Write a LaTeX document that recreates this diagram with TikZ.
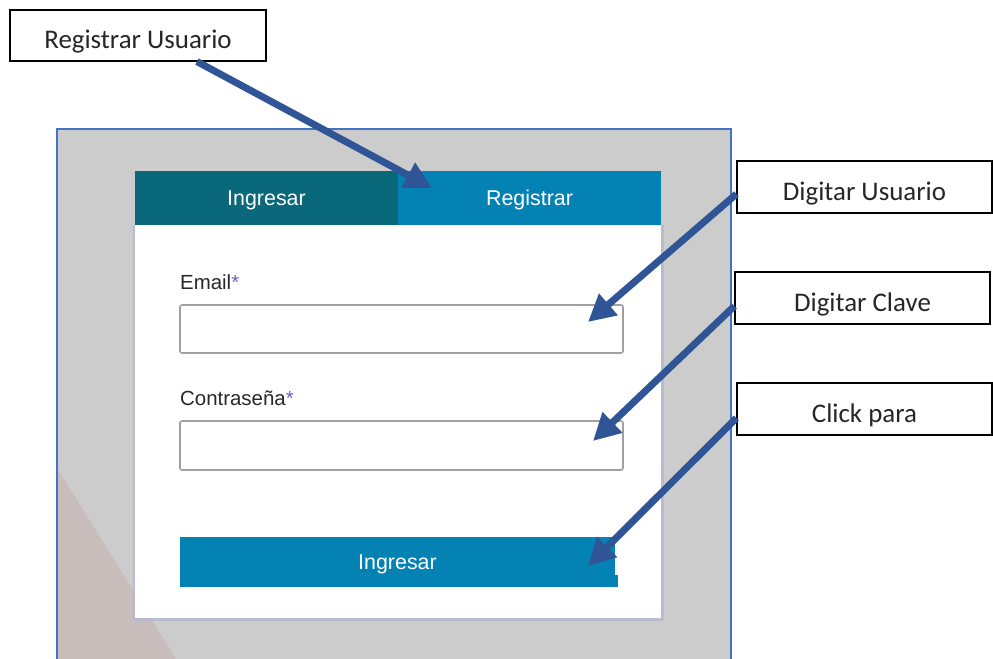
\documentclass[tikz,border=0pt]{standalone}
\usepackage{fontspec}
\setmainfont{Carlito}
\newfontfamily\uifont{Liberation Sans}
\usetikzlibrary{arrows.meta}

\definecolor{pointer}{RGB}{47,85,151}
\definecolor{screengray}{RGB}{204,204,204}
\definecolor{screenpink}{RGB}{200,189,187}
\definecolor{frameblue}{RGB}{68,114,196}
\definecolor{tabdark}{RGB}{9,104,122}
\definecolor{tabblue}{RGB}{5,130,180}
\definecolor{fieldgray}{RGB}{160,160,160}
\definecolor{labelgray}{RGB}{40,40,40}
\definecolor{starcol}{RGB}{110,95,200}
\definecolor{cardshade}{RGB}{175,184,208}

\tikzset{
  callout/.style={draw=black, line width=1.2bp, fill=white, inner sep=0pt,
    minimum width=255bp, minimum height=52bp, text height=26bp, text depth=0bp,
    font=\fontsize{27}{32}\selectfont, text=black!85},
  pointerarrow/.style={draw=pointer, line width=7bp,
    -{Triangle[length=27bp,width=27bp]}},
  tabbox/.style={inner sep=0pt, minimum width=263bp, minimum height=54bp,
    text height=15bp, text depth=0bp,
    text=white, font=\uifont\fontsize{21.5}{25}\selectfont},
  fieldbox/.style={draw=fieldgray, line width=1.6bp, rounded corners=2bp,
    fill=white, inner sep=0pt, minimum width=443bp},
  fieldlabel/.style={anchor=base west, inner sep=0pt, text=labelgray,
    font=\uifont\fontsize{20.5}{25}\selectfont}
}

\begin{document}
\begin{tikzpicture}[x=1bp,y=-1bp]
\useasboundingbox (0,0) rectangle (993,659);
\fill[white] (0,0) rectangle (993,659);

% screen backdrop with its blue frame
\fill[screengray] (57,129) rectangle (731,659);
\fill[screenpink] (57,468) -- (176,659) -- (57,659) -- cycle;
\draw[frameblue, line width=1.6bp] (57,659) -- (57,129) -- (731,129) -- (731,659);

% login card
\fill[cardshade, opacity=0.7] (132.5,225) rectangle (664,620.5);
\node[fill=white, inner sep=0pt, minimum width=526bp, minimum height=447bp]
  (card) at (398,394.5) {};

% tabs
\node[tabbox, fill=tabdark] (tabin) at (266.5,198) {Ingresar};
\node[tabbox, fill=tabblue] (tabreg) at (529.5,198) {Registrar};

% form fields
\node[fieldlabel] (lemail) at (180,289) {Email\textcolor{starcol}{*}};
\node[fieldbox, minimum height=48bp] (femail) at (401.5,329) {};
\node[fieldlabel] (lpass) at (180,405) {Contraseña\textcolor{starcol}{*}};
\node[fieldbox, minimum height=49bp] (fpass) at (401.5,445.5) {};

% submit button
\fill[tabblue] (614,575) rectangle (617.5,587);
\node[tabbox, fill=tabblue, minimum width=435bp, minimum height=50bp]
  (btn) at (397.5,562) {Ingresar};

% callouts
\node[callout, minimum width=256bp, minimum height=51bp] (creg) at (138,35.5) {Registrar Usuario};
\node[callout] (cuser) at (864.5,187) {Digitar Usuario};
\node[callout] (ckey) at (862.5,298) {Digitar Clave};
\node[callout] (cclick) at (864.5,409) {Click para};

% arrow targets
\coordinate (treg) at (432,188);
\coordinate (tuser) at (588,322);
\coordinate (tkey) at (593,441);
\coordinate (tclick) at (588,566);

% pointers
\draw[pointerarrow] ([xshift=59bp]creg.south) -- (treg);
\draw[pointerarrow] ([yshift=-7bp]cuser.west) -- (tuser);
\draw[pointerarrow] ([yshift=-8bp]ckey.west) -- (tkey);
\draw[pointerarrow] ([yshift=-9bp]cclick.west) -- (tclick);
\end{tikzpicture}
\end{document}
